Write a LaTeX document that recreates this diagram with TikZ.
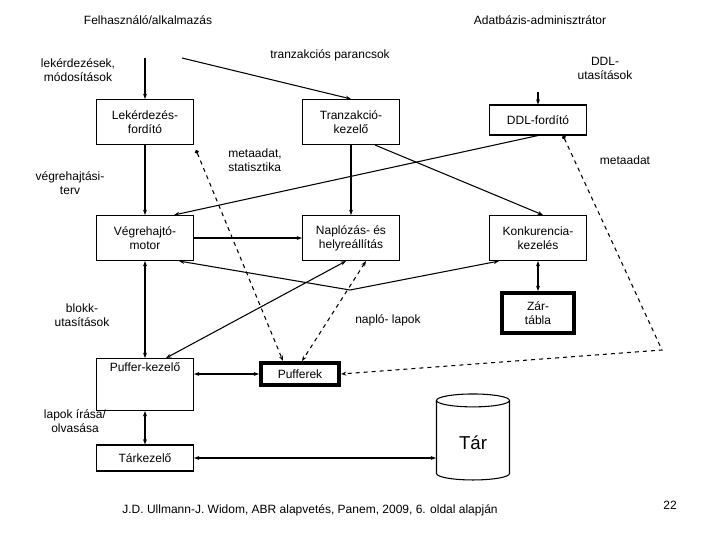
\documentclass[tikz,border=0pt]{standalone}
\usepackage{fontspec}
\setmainfont{Liberation Sans}
\usepackage{tikz}
\usetikzlibrary{positioning,shapes,calc,arrows.meta}

\begin{document}
\begin{tikzpicture}[x=0.75pt,y=-0.75pt,font=\fontsize{9}{10.5}\selectfont]
      % box styles for the modules
      \tikzset{Box/.style={draw,thick,minimum width=97pt*0.75,minimum height=45pt*0.75,align=center,inner sep=1pt},
        ThickBox/.style={draw,line width=3pt,minimum width=97pt*0.75,minimum height=45pt*0.75,align=center,inner sep=1pt},
        Lbl/.style={align=center},
        Arr/.style={thick,-{Stealth[length=4pt,width=3pt]}},
        BiArr/.style={thick,{Stealth[length=4pt,width=3pt]}-{Stealth[length=4pt,width=3pt]}},
        Dash/.style={thick,dashed,{Circle[length=3pt,width=3pt,sep=0pt]}-{Stealth[length=4pt,width=3pt]}}}
      \useasboundingbox (0,0) rectangle (720,540);
      % actors
      \node (user) at (148,20) {Felhasználó/alkalmazás};
      \node (admin) at (540,20) {Adatbázis-adminisztrátor};
      % modules
      \node[Box] (qc) at (145,122) {Lekérdezés-\\fordító};
      \node[Box] (tm) at (351,122) {Tranzakció-\\kezelő};
      \node[Box,minimum height=30pt*0.75] (ddl) at (538,120) {DDL-fordító};
      \node[Box] (em) at (145,238) {Végrehajtó-\\motor};
      \node[Box] (lr) at (351,238) {Naplózás- és\\helyreállítás};
      \node[Box] (cc) at (538,238) {Konkurencia-\\kezelés};
      \node[ThickBox,minimum width=72pt*0.75,minimum height=40pt*0.75] (lock) at (538,313) {Zár-\\tábla};
      \node[Box,minimum height=52pt*0.75,anchor=north] (bm) at (145,358) {};
      \node[anchor=north] at (bm.north) {Puffer-kezelő};
      \node[ThickBox,minimum width=78pt*0.75,minimum height=22pt*0.75] (buf) at (300,374) {Pufferek};
      \node[Box,minimum height=26pt*0.75] (sm) at (145,458) {Tárkezelő};
      \node[draw,thick,cylinder,shape border rotate=90,aspect=0.35,minimum width=73pt*0.75,minimum height=86pt*0.75,
        font=\fontsize{14}{16}\selectfont] (disk) at (473,442) {\raisebox{-12pt}{Tár}};
      % labels
      \node[Lbl] at (78,70) {lekérdezések,\\módosítások};
      \node at (330,55) {tranzakciós parancsok};
      \node[Lbl] at (605,68) {DDL-\\utasítások};
      \node[Lbl,align=left] at (255,160) {metaadat,\\statisztika};
      \node[Lbl] at (70,183) {végrehajtási-\\terv};
      \node at (625,160) {metaadat};
      \node[Lbl] at (82,315) {blokk-\\utasítások};
      \node at (388,320) {napló- lapok};
      \node[Lbl] at (75,421) {lapok írása/\\olvasása};
      \node at (310,510) {J.D. Ullmann-J. Widom, ABR alapvetés, Panem, 2009, 6. oldal alapján};
      \node at (670,505) {22};
      \coordinate (u1) at (145,58);
      \coordinate (u2) at (182,58);
      \coordinate (a1) at (538,92);
      \coordinate (mid) at (350,290);
      \coordinate (turn) at (662,350);
      % connectors
      \draw[Arr] (u1) -- (qc.north);
      \draw[Arr] (u2) -- (tm.north);
      \draw[Arr] (a1) -- (ddl.north);
      \draw[Arr] (qc) -- (em);
      \draw[Arr] (tm) -- (lr);
      \draw[Arr] (tm.south east) ++(-25,0) -- ($(cc.north)+(5,0)$);
      \draw[Arr] (ddl.south) -- ($(em.north east)+(-20,0)$);
      \draw[Arr] (em) -- (lr);
      \draw[BiArr] ($(em.south east)+(-15,0)$) -- (mid) -- ($(cc.south west)+(10,0)$);
      \draw[BiArr] ($(lr.south)+(-5,0)$) -- ($(bm.north east)+(-28,0)$);
      \draw[BiArr] (em) -- (bm);
      \draw[BiArr] (cc) -- (lock);
      \draw[BiArr] (bm.east |- buf) -- (buf);
      \draw[BiArr] (bm) -- (sm);
      \draw[BiArr] (sm) -- (disk.west |- sm);
      \draw[Dash] ($(qc.south east)+(2,5)$) -- ($(buf.north)+(-17,0)$);
      \draw[Dash,{Stealth[length=4pt,width=3pt]}-{Stealth[length=4pt,width=3pt]}] ($(lr.south)+(15,0)$) -- ($(buf.north)+(2,0)$);
      \draw[Dash] ($(ddl.south)+(25,0)$) -- (turn) -- (buf.east);
\end{tikzpicture}
\end{document}
